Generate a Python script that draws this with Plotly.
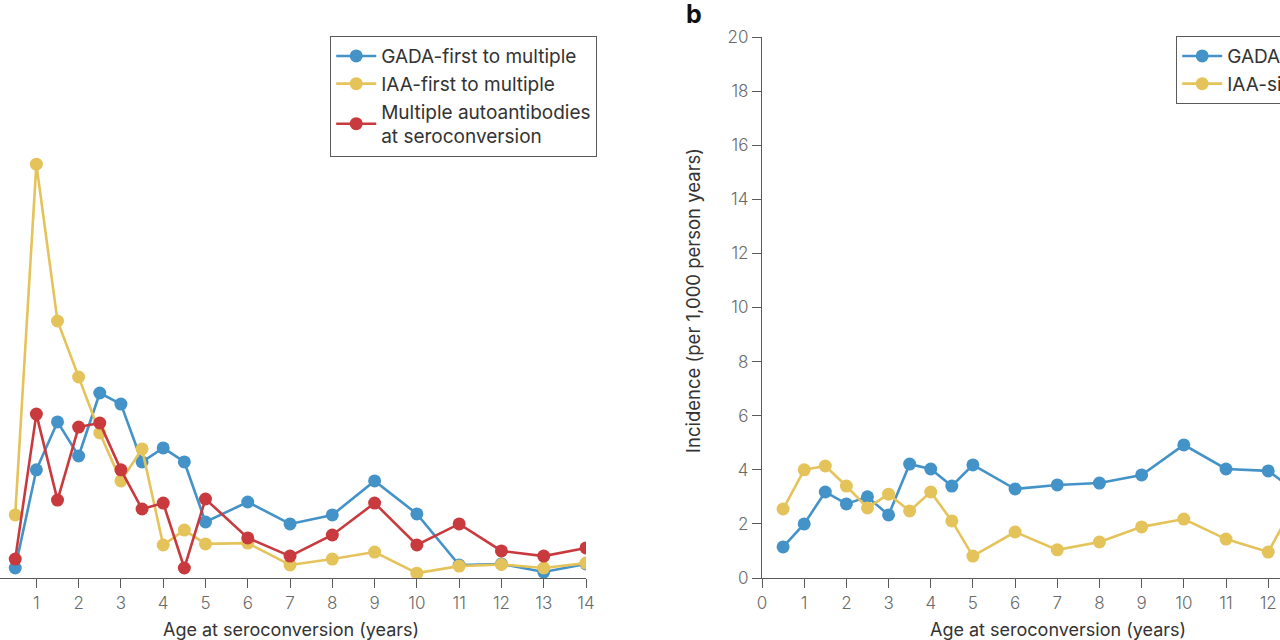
import plotly.graph_objects as go

# ---- data ----
ages_a = [0.5, 1, 1.5, 2, 2.5, 3, 3.5, 4, 4.5, 5, 6, 7, 8, 9, 10, 11, 12, 13, 14]
gada_first = [0.37, 4.0, 5.77, 4.51, 6.84, 6.43, 4.29, 4.81, 4.29, 2.07, 2.81, 2.0, 2.33, 3.59, 2.37, 0.48, 0.52, 0.22, 0.52]
iaa_first = [2.33, 15.3, 9.5, 7.43, 5.36, 3.59, 4.77, 1.22, 1.77, 1.26, 1.29, 0.48, 0.70, 0.96, 0.18, 0.44, 0.50, 0.37, 0.55]
multiple = [0.70, 6.06, 2.88, 5.58, 5.73, 4.0, 2.55, 2.77, 0.37, 2.92, 1.48, 0.81, 1.59, 2.77, 1.22, 2.0, 1.0, 0.81, 1.11]

ages_b = [0.5, 1, 1.5, 2, 2.5, 3, 3.5, 4, 4.5, 5, 6, 7, 8, 9, 10, 11, 12, 13]
gada_single = [1.15, 2.0, 3.18, 2.74, 3.0, 2.33, 4.21, 4.03, 3.4, 4.18, 3.29, 3.44, 3.51, 3.81, 4.92, 4.03, 3.96, 2.8]
iaa_single = [2.55, 4.0, 4.14, 3.4, 2.59, 3.1, 2.48, 3.18, 2.11, 0.81, 1.70, 1.04, 1.33, 1.89, 2.18, 1.44, 0.96, 3.8]

ticks_a = list(range(1, 15))
ticks_b = list(range(0, 15))
yticks = list(range(0, 21, 2))

BLUE = "#4493c8"
YELLOW = "#e5c35b"
RED = "#c83a3d"
AX = "#5a5a5a"
FONT = "Inter"

W, H = 1280, 640
ML, MR, MT, MB = 0, 0, 37, 62

fig = go.Figure()

def add(x, y, name, color, xa, ya, legend):
    fig.add_trace(go.Scatter(
        x=x, y=y, name=name, mode="lines+markers",
        line=dict(color=color, width=2.6),
        marker=dict(color=color, size=13),
        xaxis=xa, yaxis=ya, legend=legend))

add(ages_a, gada_first, "GADA-first to multiple", BLUE, "x", "y", "legend")
add(ages_a, iaa_first, "IAA-first to multiple", YELLOW, "x", "y", "legend")
add(ages_a, multiple, "Multiple autoantibodies<br>at seroconversion", RED, "x", "y", "legend")
add(ages_b, gada_single, "GADA-single", BLUE, "x2", "y2", "legend2")
add(ages_b, iaa_single, "IAA-single", YELLOW, "x2", "y2", "legend2")

tickfont = dict(family=FONT, size=17, color="#6a6a6a", weight=300)
legfont = dict(family=FONT, size=19, color="#333")

fig.update_layout(
    width=W, height=H,
    margin=dict(l=ML, r=MR, t=MT, b=MB, autoexpand=False),
    paper_bgcolor="white", plot_bgcolor="white",
    font=dict(family=FONT, color="#333"),
    xaxis=dict(domain=[0, 586 / W], range=[0.14, 14], tickvals=ticks_a,
               showline=True, linecolor=AX, linewidth=1.2, ticks="outside",
               ticklen=9, tickcolor=AX, tickwidth=1.2, tickfont=tickfont,
               showgrid=False, zeroline=False),
    yaxis=dict(domain=[0, 1], range=[0, 20], visible=False),
    xaxis2=dict(domain=[762 / W, 1], range=[0, 12.28], tickvals=ticks_b,
                showline=True, linecolor=AX, linewidth=1.2, ticks="outside",
                ticklen=9, tickcolor=AX, tickwidth=1.2, tickfont=tickfont,
                showgrid=False, zeroline=False, anchor="y2"),
    yaxis2=dict(domain=[0, 1], range=[0, 20], tickvals=yticks, anchor="x2",
                showline=True, linecolor=AX, linewidth=1.2, ticks="outside",
                ticklen=9, tickcolor=AX, tickwidth=1.2, tickfont=tickfont,
                showgrid=False, zeroline=False),
    legend=dict(x=330 / W, y=1.002, xanchor="left", yanchor="top",
                bordercolor=AX, borderwidth=1.2, bgcolor="white",
                font=legfont, tracegroupgap=0, itemwidth=40),
    legend2=dict(x=1176 / W, y=1.002, xanchor="left", yanchor="top",
                 bordercolor=AX, borderwidth=1.2, bgcolor="white",
                 font=legfont, tracegroupgap=0, itemwidth=40),
    showlegend=True,
)

def py(pix):
    return (H - MB - pix) / (H - MT - MB)

fig.add_annotation(text="Age at seroconversion (years)", xref="paper", yref="paper",
                   x=291 / W, y=py(629), showarrow=False, xanchor="center", yanchor="middle",
                   font=dict(family=FONT, size=18, color="#333"))
fig.add_annotation(text="Age at seroconversion (years)", xref="paper", yref="paper",
                   x=1058 / W, y=py(629), showarrow=False, xanchor="center", yanchor="middle",
                   font=dict(family=FONT, size=18, color="#333"))
fig.add_annotation(text="Incidence (per 1,000 person years)", xref="paper", yref="paper",
                   x=693 / W, y=py(301), textangle=-90,
                   showarrow=False, xanchor="center", yanchor="middle",
                   font=dict(family=FONT, size=18.5, color="#333"))
fig.add_annotation(text="<b>b</b>", xref="paper", yref="paper",
                   x=694 / W, y=py(14), showarrow=False, xanchor="center", yanchor="middle",
                   font=dict(family=FONT, size=25, color="#111"))

fig.write_html("out.html", config={"displayModeBar": False},
               post_script="document.body.style.margin='0';document.body.style.overflow='hidden';")
